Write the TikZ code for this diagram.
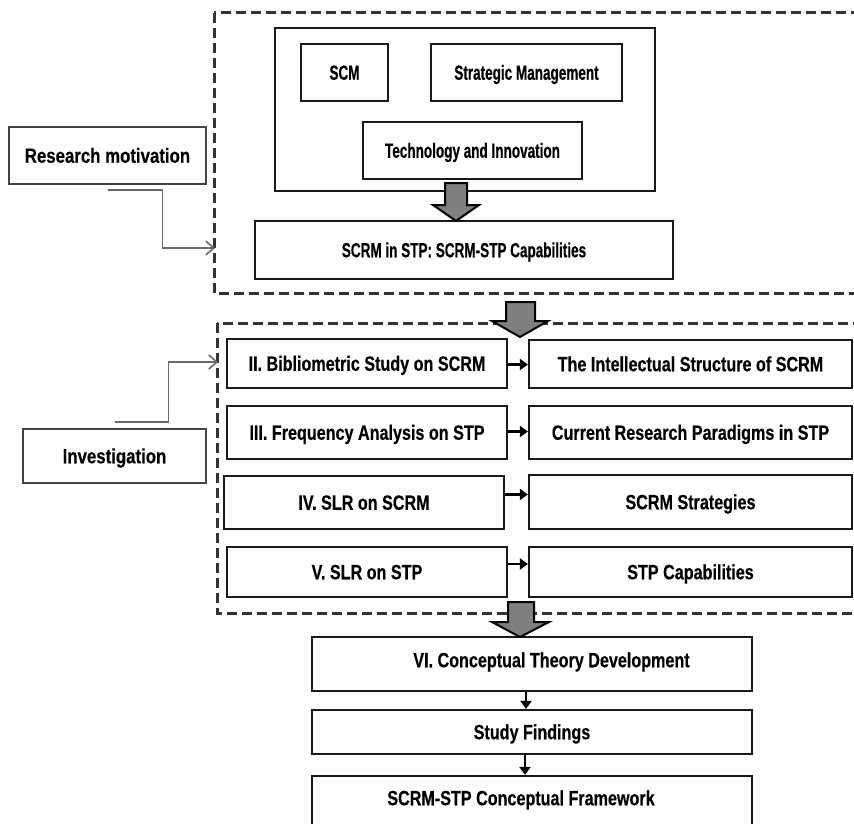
\documentclass[tikz,border=0pt]{standalone}
\usepackage{fontspec}
\usetikzlibrary{arrows.meta,calc}
\newfontfamily\lowfont{Liberation Sans}[FakeStretch=0.78,FakeBold=0.4]
\newfontfamily\topfont{Liberation Sans}[FakeStretch=0.66,FakeBold=0.4]
\newfontfamily\sidefont{Liberation Sans}[FakeStretch=0.82,FakeBold=0.4]
\definecolor{edge}{HTML}{1A1A1A}
\definecolor{softedge}{HTML}{444444}
\definecolor{dashc}{HTML}{333333}
\definecolor{linkc}{HTML}{6A6A6A}
\definecolor{blockfill}{HTML}{7F7F7F}
\begin{document}
\begin{tikzpicture}[x=1pt,y=-1pt,
  box/.style={draw=edge, line width=2.2pt, fill=white, inner sep=0pt,
    text=black, text height=14.5pt, text depth=0pt},
  sidebox/.style={box, draw=softedge},
  tfont/.style={font=\topfont\bfseries\fontsize{20.5}{23}\selectfont},
  lfont/.style={font=\lowfont\bfseries\fontsize{20.7}{23}\selectfont},
  sfont/.style={font=\sidefont\bfseries\fontsize{20.5}{23}\selectfont},
  lbl/.style={inner sep=0pt, text=black, text height=14.5pt, text depth=0pt},
  dashbox/.style={draw=dashc, line width=3pt, dash pattern=on 10pt off 5pt},
  link/.style={draw=linkc, line width=1.6pt, -{Straight Barb[length=8pt,width=14pt,line width=1.6pt]}},
  smallarrow/.style={draw=black, line width=2.4pt, -{Triangle[length=8pt,width=11pt]}},
  blockarrow/.style={draw=black, line width=2pt, fill=blockfill, line join=miter}
]
\clip (0,0) rectangle (854,824);
\fill[white] (0,0) rectangle (854,824);

% dashed frames (open to the right)
\draw[dashbox] (214,13) rectangle (880,293);
\draw[dashbox] (217,323) rectangle (880,613);
\coordinate (motivin) at (215,248);
\coordinate (investin) at (218,362);

% upper frame contents
\node[box, minimum width=380pt, minimum height=163pt] (outer) at (465,109.5) {};
\node[box, tfont, minimum width=87pt, minimum height=57pt] (scm) at (344.5,72.5) {SCM};
\node[box, tfont, minimum width=191pt, minimum height=57pt] (strat) at (526.5,72.5) {Strategic Management};
\node[box, tfont, minimum width=219pt, minimum height=57pt] (tech) at (472.5,150.5) {Technology and Innovation};
\node[box, tfont, minimum width=418pt, minimum height=58pt] (scrm) at (464,250) {SCRM in STP: SCRM-STP Capabilities};

% side boxes
\node[sidebox, sfont, minimum width=197pt, minimum height=57pt] (resmot) at (107.5,155.5) {Research motivation};
\node[sidebox, sfont, minimum width=183pt, minimum height=54pt] (invest) at (114.5,456) {Investigation};

% study rows
\node[box, lfont, minimum width=280pt, minimum height=49pt] (l2) at (367,363.5) {II. Bibliometric Study on SCRM};
\node[box, lfont, minimum width=280pt, minimum height=53pt] (l3) at (367,432.5) {III. Frequency Analysis on STP};
\node[box, lfont, minimum width=280pt, minimum height=53pt] (l4) at (364,502.5) {IV. SLR on SCRM};
\node[box, lfont, minimum width=280pt, minimum height=50pt] (l5) at (367,572) {V. SLR on STP};
\node[box, lfont, minimum width=323pt, minimum height=48pt] (r2) at (690.5,364) {The Intellectual Structure of SCRM};
\node[box, lfont, minimum width=323pt, minimum height=53pt] (r3) at (690.5,432.5) {Current Research Paradigms in STP};
\node[box, lfont, minimum width=323pt, minimum height=54pt] (r4) at (690.5,502) {SCRM Strategies};
\node[box, lfont, minimum width=323pt, minimum height=50pt] (r5) at (690.5,572) {STP Capabilities};

% outcome chain
\node[box, minimum width=440pt, minimum height=54pt] (theory) at (532,664) {};
\node[lbl, lfont] (theorytext) at (551.5,660) {VI. Conceptual Theory Development};
\node[box, lfont, minimum width=440pt, minimum height=44pt] (findings) at (532,732) {Study Findings};
\node[box, minimum width=440pt, minimum height=64pt] (framework) at (532,808) {};
\node[lbl, lfont] (frameworktext) at (521,798) {SCRM-STP Conceptual Framework};

% connectors
\draw[link] ([yshift=-5pt]resmot.south) -- ++(55,0) |- (motivin);
\draw[link] ([yshift=6pt]invest.north) -- ++(54,0) |- (investin);

\draw[smallarrow] ([yshift=-1pt]l2.east) -- ([yshift=-1pt]l2.east -| r2.west);
\draw[smallarrow] ([yshift=1pt]l3.east) -- ([yshift=1pt]l3.east -| r3.west);
\draw[smallarrow] ([yshift=8pt]l4.east) -- ([yshift=8pt]l4.east -| r4.west);
\draw[smallarrow] ([yshift=8pt]l5.east) -- ([yshift=8pt]l5.east -| r5.west);

\draw[smallarrow] ([xshift=-6pt]theory.south) -- ([xshift=-6pt]findings.north);
\draw[smallarrow] ([xshift=-7pt]findings.south) -- ([xshift=-7pt]framework.north);

% block arrows between stages
\draw[blockarrow] (445,183) -- (467,183) -- (467,205) -- (479,205) -- (456,221)
  -- (433,205) -- (445,205) -- cycle;
\draw[blockarrow] (506,302) -- (535,302) -- (535,321) -- (548,321) -- (520,337)
  -- (492,321) -- (506,321) -- cycle;
\draw[blockarrow] (508,602) -- (534,602) -- (534,622) -- (549,622) -- (520,637)
  -- (492,622) -- (508,622) -- cycle;
\end{tikzpicture}
\end{document}
